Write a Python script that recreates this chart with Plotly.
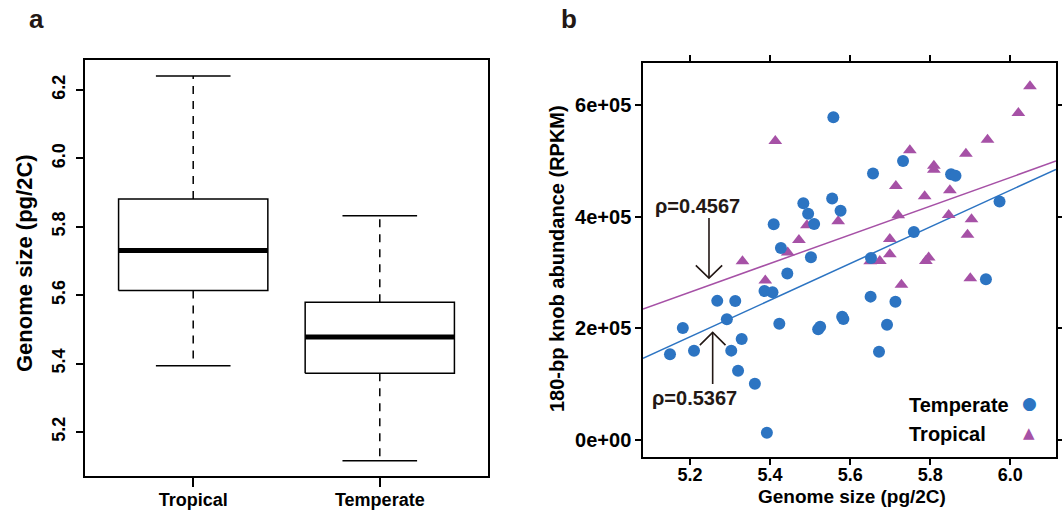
import plotly.graph_objects as go

# ---------------- data ----------------
# panel a: boxplot statistics (genome size, pg/2C)
box_categories = ["Tropical", "Temperate"]
box_lower = [5.394, 5.116]
box_q1 = [5.614, 5.372]
box_median = [5.731, 5.478]
box_q3 = [5.881, 5.579]
box_upper = [6.241, 5.832]

# panel b: scatter, genome size vs 180-bp knob abundance
temperate_x = [5.150, 5.182, 5.210, 5.268, 5.292, 5.313, 5.303, 5.329, 5.320, 5.362,
               5.392, 5.386, 5.406, 5.409, 5.423, 5.427, 5.443, 5.483, 5.495, 5.510,
               5.502, 5.520, 5.525, 5.555, 5.558, 5.576, 5.580, 5.583, 5.652, 5.651,
               5.657, 5.672, 5.692, 5.713, 5.732, 5.759, 5.852, 5.863, 5.939, 5.973]
temperate_y = [153600, 200600, 160000, 249400, 216300, 249200, 160200, 181100, 124300, 101000,
               12800, 267000, 264700, 386800, 208300, 344200, 298400, 424300, 405400, 387200,
               327400, 198400, 203200, 433000, 578400, 411100, 221100, 216900, 326200, 257000,
               477700, 158000, 206500, 248000, 500300, 372900, 476200, 473800, 288000, 427500]

tropical_x = [5.331, 5.388, 5.413, 5.444, 5.472, 5.492, 5.570, 5.650, 5.674, 5.699,
              5.699, 5.714, 5.720, 5.728, 5.749, 5.786, 5.789, 5.796, 5.809, 5.809,
              5.849, 5.846, 5.889, 5.893, 5.903, 5.900, 5.943, 6.020, 6.049]
tropical_y = [320500, 286000, 535800, 336000, 358500, 384800, 392000, 320500, 321000, 332800,
              360300, 455300, 402800, 278200, 519200, 437000, 320900, 327000, 491500, 484200,
              447500, 403300, 512900, 367700, 395800, 289800, 538300, 586000, 634200]

# regression lines (slope, intercept)
temperate_fit = (328400.0, -1522730.0)
tropical_fit = (257100.0, -1071940.0)

rho_labels = ["\u03c1=0.4567", "\u03c1=0.5367"]

xb_ticks = [5.2, 5.4, 5.6, 5.8, 6.0]
xb_ticktext = ["5.2", "5.4", "5.6", "5.8", "6.0"]
yb_ticks = [0, 200000, 400000, 600000]
yb_ticktext = ["0e+00", "2e+05", "4e+05", "6e+05"]
ya_ticks = [5.2, 5.4, 5.6, 5.8, 6.0, 6.2]
ya_ticktext = ["5.2", "5.4", "5.6", "5.8", "6.0", "6.2"]

# ---------------- style ----------------
W, H = 1062, 515
BLUE = "#2C74C2"
PURPLE = "#A651A6"
INK = "#231815"
FONT = "Liberation Sans, Arial, sans-serif"


def px(x):
    return x / W


def py(y):
    return 1 - y / H


fig = go.Figure()

# ---- panel a: boxes drawn from the statistics ----
half_box = 0.4
half_cap = 0.2
for i, cat in enumerate(box_categories):
    pos = i + 1
    fig.add_trace(go.Scatter(
        x=[pos - half_box, pos + half_box, pos + half_box, pos - half_box, pos - half_box],
        y=[box_q1[i], box_q1[i], box_q3[i], box_q3[i], box_q1[i]],
        mode="lines", line=dict(color="black", width=1.5),
        xaxis="x", yaxis="y", showlegend=False, hoverinfo="skip"))
    fig.add_trace(go.Scatter(
        x=[pos - half_box, pos + half_box], y=[box_median[i], box_median[i]],
        mode="lines", line=dict(color="black", width=5),
        xaxis="x", yaxis="y", showlegend=False, hoverinfo="skip"))
    for a, b in [(box_q3[i], box_upper[i]), (box_q1[i], box_lower[i])]:
        fig.add_trace(go.Scatter(
            x=[pos, pos], y=[a, b], mode="lines",
            line=dict(color="black", width=1.5, dash="8px,7px"),
            xaxis="x", yaxis="y", showlegend=False, hoverinfo="skip"))
    for v in [box_upper[i], box_lower[i]]:
        fig.add_trace(go.Scatter(
            x=[pos - half_cap, pos + half_cap], y=[v, v], mode="lines",
            line=dict(color="black", width=1.5),
            xaxis="x", yaxis="y", showlegend=False, hoverinfo="skip"))

# ---- panel b: regression lines ----
xr = [5.0826, 6.114]
for (m, c), col in [(tropical_fit, PURPLE), (temperate_fit, BLUE)]:
    fig.add_trace(go.Scatter(
        x=xr, y=[m * v + c for v in xr], mode="lines",
        line=dict(color=col, width=1.5),
        xaxis="x2", yaxis="y2", showlegend=False, hoverinfo="skip"))

# ---- panel b: points ----
fig.add_trace(go.Scatter(
    x=tropical_x, y=tropical_y, mode="markers", name="Tropical",
    marker=dict(symbol="triangle-up", size=12, color=PURPLE),
    xaxis="x2", yaxis="y2", showlegend=False))
fig.add_trace(go.Scatter(
    x=temperate_x, y=temperate_y, mode="markers", name="Temperate",
    marker=dict(symbol="circle", size=12, color=BLUE),
    xaxis="x2", yaxis="y2", showlegend=False))

# ---- arrows (open V heads) ----
arrow_shapes = []
for xline, ytop, ybot, ytip, yarm, dx in [
    (5.2474, 397800, 290300, 290300, 313000, 0.0329),
    (5.2566, 193000, 100400, 193000, 170000, 0.032),
]:
    arrow_shapes.append(dict(type="line", xref="x2", yref="y2",
                             x0=xline, x1=xline, y0=ytop, y1=ybot,
                             line=dict(color=INK, width=1.6)))
    arrow_shapes.append(dict(type="path", xref="x2", yref="y2",
                             path=f"M {xline-dx},{yarm} L {xline},{ytip} L {xline+dx},{yarm}",
                             line=dict(color=INK, width=1.6)))

bold = dict(family=FONT, color="black", weight="bold")


def note(text, x, y, size, color="black", family=FONT, weight="bold",
         angle=0, xanchor="center"):
    return dict(text=text, x=px(x), y=py(y), xref="paper", yref="paper",
                xanchor=xanchor, yanchor="middle", textangle=angle,
                showarrow=False,
                font=dict(size=size, family=family, color=color, weight=weight))


annotations = [
    note("a", 36, 19, 26, color=INK),
    note("b", 569, 19, 26, color=INK),
    note("Genome size (pg/2C)", 24, 263, 22, angle=-90),
    note("180-bp knob abundance (RPKM)", 557, 259, 20, angle=-90),
    note("Genome size (pg/2C)", 852, 496, 19),
    note(rho_labels[0], 697, 206, 20, color=INK),
    note(rho_labels[1], 695, 398, 20, color=INK),
    note("Temperate", 907, 405, 20, xanchor="left"),
    note("Tropical", 907, 434, 20, xanchor="left"),
    note("\u25cf", 1029, 403, 17, color=BLUE, family="DejaVu Sans", weight="normal"),
    note("\u25b2", 1029, 433, 15, color=PURPLE, family="DejaVu Sans", weight="normal"),
]

tickfont_a = dict(size=18, **bold)
tickfont_bx = dict(size=18, **bold)
tickfont_by = dict(size=20, **bold)

fig.update_layout(
    width=W, height=H,
    margin=dict(l=0, r=0, t=0, b=0, autoexpand=False),
    paper_bgcolor="white", plot_bgcolor="white",
    showlegend=False,
    shapes=arrow_shapes,
    annotations=annotations,
    xaxis=dict(domain=[px(85), px(488)], range=[0.42, 2.58],
               tickvals=[1, 2], ticktext=box_categories,
               ticks="outside", ticklen=9, tickwidth=1.5, tickcolor="black",
               showline=True, linecolor="black", linewidth=1.5, mirror=True,
               showgrid=False, zeroline=False, tickfont=tickfont_a, anchor="y",
               automargin=False, ticklabelstandoff=-2),
    yaxis=dict(domain=[py(476), py(60)], range=[5.0713, 6.2877],
               tickvals=ya_ticks, ticktext=ya_ticktext, tickangle=-90,
               ticks="outside", ticklen=7, tickwidth=1.5, tickcolor="black",
               showline=True, linecolor="black", linewidth=1.5, mirror=True,
               showgrid=False, zeroline=False, tickfont=tickfont_a, anchor="x",
               automargin=False, ticklabelstandoff=4),
    xaxis2=dict(domain=[px(643), px(1056)], range=[5.0826, 6.114],
                tickvals=xb_ticks, ticktext=xb_ticktext,
                ticks="outside", ticklen=6, tickwidth=1.5, tickcolor="black",
                showline=True, linecolor="black", linewidth=1.5, mirror="ticks",
                showgrid=False, zeroline=False, tickfont=tickfont_bx, anchor="y2",
                automargin=False, ticklabelstandoff=-6),
    yaxis2=dict(domain=[py(457.3), py(62.7)], range=[-31000, 676300],
                tickvals=yb_ticks, ticktext=yb_ticktext,
                ticks="outside", ticklen=6, tickwidth=1.5, tickcolor="black",
                showline=True, linecolor="black", linewidth=1.5, mirror="ticks",
                showgrid=False, zeroline=False, tickfont=tickfont_by, anchor="x2",
                automargin=False),
)

fig.write_html("out.html", config={"displayModeBar": False},
               post_script="document.body.style.margin='0';")
